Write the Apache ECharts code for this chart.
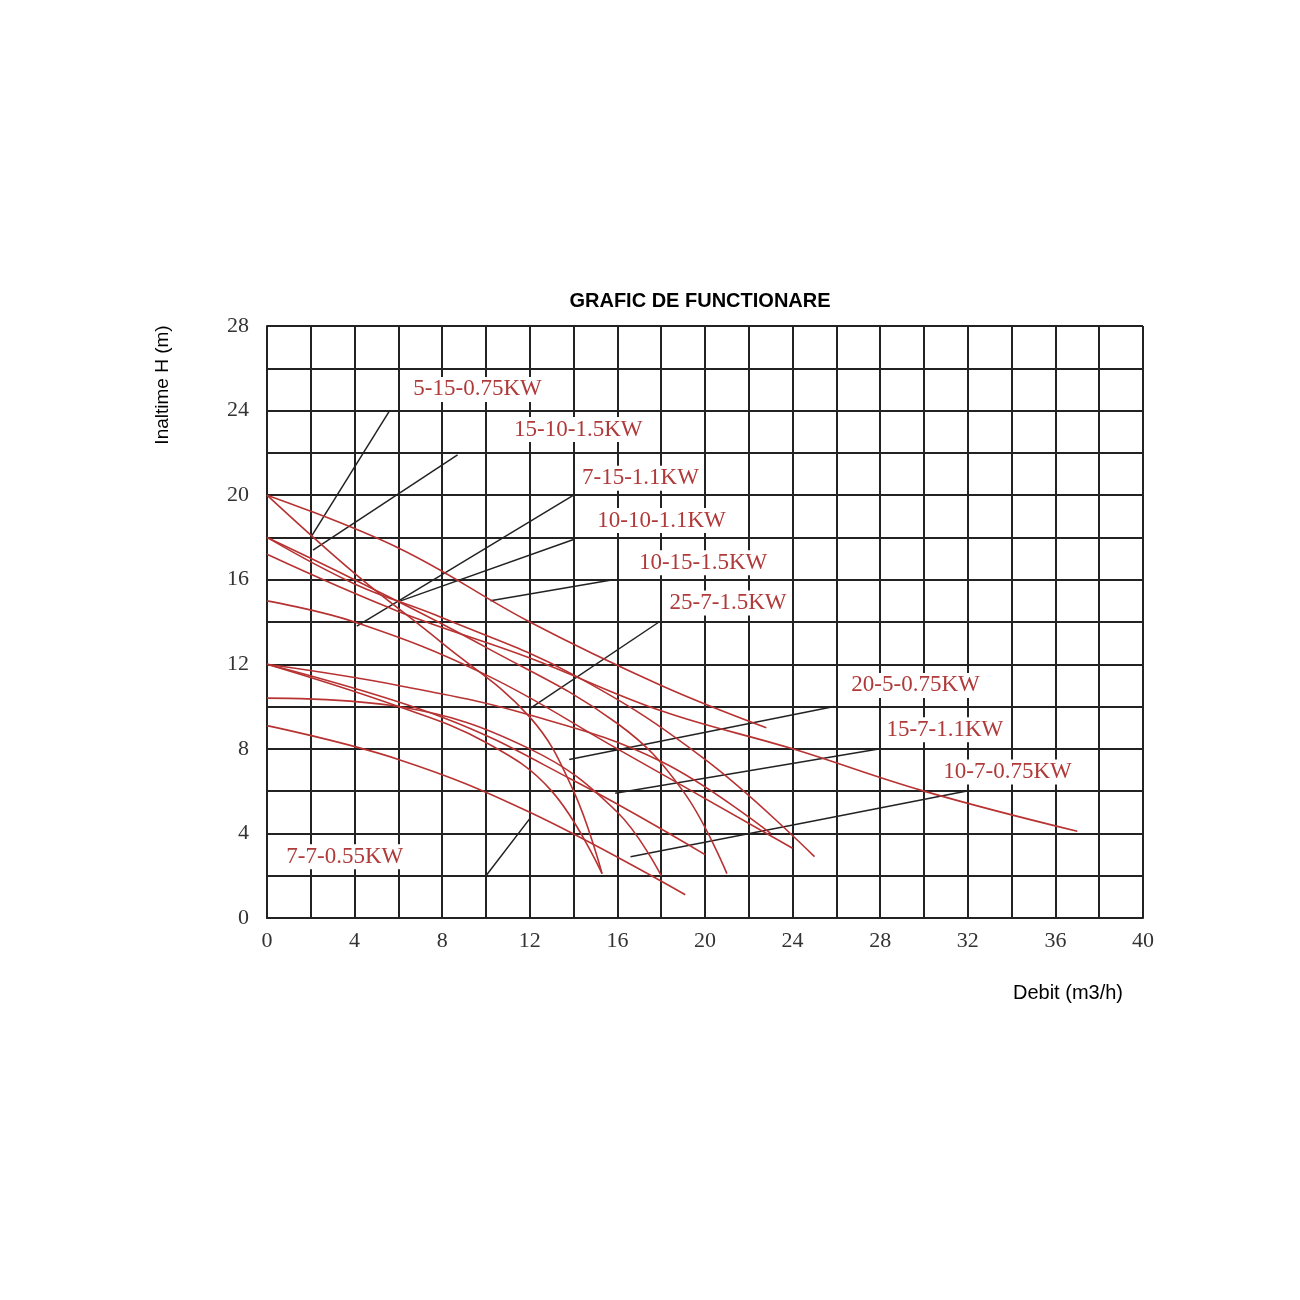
<!DOCTYPE html>
<html>
<head>
<meta charset="utf-8">
<script src="https://cdn.jsdelivr.net/npm/echarts@6/dist/echarts.min.js"></script>
<style>html,body{margin:0;background:#fff}#main{width:1300px;height:1300px}</style>
</head>
<body>
<div id="main"></div>
<script>
// pump curves, [Q, H]
var curves = [
    [[0, 20], [4, 16.3], [8, 13], [12, 9.5], [14, 6], [15.3, 2.1]],
    [[0, 20], [6, 17.5], [12, 14], [18, 11], [22.8, 9]],
    [[0, 18], [4, 16], [10, 12.8], [16, 9.2], [19, 6], [21, 2.1]],
    [[0, 17.2], [6, 14.5], [12, 12.3], [18, 9.8], [24, 8], [30, 6], [37, 4.1]],
    [[0, 18], [4, 15.8], [8, 14.2], [14, 11.5], [20, 7.5], [25, 2.9]],
    [[0, 15], [4, 14], [10, 11.5], [16, 8], [24, 3.3]],
    [[0, 12], [6, 10], [10, 8.3], [13, 6], [15.3, 2.1]],
    [[0, 12], [6, 11], [12, 9.6], [18, 7.4], [23, 4]],
    [[0, 10.4], [6, 10], [12, 8], [16, 5], [18, 2]],
    [[0, 9.1], [6, 7.5], [12, 5], [19.1, 1.1]],
    [[0, 12], [8, 9.5], [14, 6.5], [20, 3]]
];
var leaders = [
    [[5.6, 24], [2.0, 18]],
    [[8.7, 21.9], [2.1, 17.4]],
    [[14, 20], [4.1, 13.8]],
    [[14, 17.9], [6.1, 15]],
    [[15.8, 16], [10.2, 15]],
    [[17.9, 14], [12, 9.9]],
    [[25.9, 10], [13.8, 7.5]],
    [[28, 8], [15.9, 5.9]],
    [[31.9, 6], [16.6, 2.9]],
    [[12, 4.7], [10, 2], [0, 2]]
];
var labels = [
    [6.5, 25, '5-15-0.75KW'],
    [11.1, 23.1, '15-10-1.5KW'],
    [14.2, 20.8, '7-15-1.1KW'],
    [14.9, 18.8, '10-10-1.1KW'],
    [16.8, 16.8, '10-15-1.5KW'],
    [18.2, 14.9, '25-7-1.5KW'],
    [26.5, 11, '20-5-0.75KW'],
    [28.1, 8.9, '15-7-1.1KW'],
    [30.7, 6.9, '10-7-0.75KW'],
    [0.7, 2.9, '7-7-0.55KW']
];

var chart = echarts.init(document.getElementById('main'));
var series = [];
leaders.forEach(function (l) {
    series.push({ type: 'line', data: l, symbol: 'none', lineStyle: { color: '#222', width: 1.5 }, z: 3 });
});
curves.forEach(function (c) {
    series.push({ type: 'line', data: c, smooth: 0.4, symbol: 'none', lineStyle: { color: '#b83232', width: 1.6 }, z: 4 });
});
var axisLine = { lineStyle: { color: '#222', width: 2 } };
chart.setOption({
    animation: false,
    title: { text: 'GRAFIC DE FUNCTIONARE', left: 695, top: 286, textAlign: 'center',
        textStyle: { fontFamily: 'Liberation Sans', fontSize: 20, fontWeight: 'bold', color: '#000' } },
    grid: { left: 267, right: 157, top: 326, bottom: 382 },
    xAxis: {
        type: 'value', min: 0, max: 40, interval: 2,
        axisLine: axisLine, axisTick: { show: false },
        splitLine: { lineStyle: { color: '#222', width: 2 } },
        axisLabel: { margin: 12, fontFamily: 'Liberation Serif', fontSize: 22, color: '#333',
            formatter: function (v) { return v % 4 === 0 ? v : ''; } },
        name: 'Debit (m3/h)', nameLocation: 'end', nameGap: 0,
        nameTextStyle: { fontFamily: 'Liberation Sans', fontSize: 20, color: '#000',
            align: 'right', verticalAlign: 'top', padding: [65, 20, 0, 0] }
    },
    yAxis: {
        type: 'value', min: 0, max: 28, interval: 2,
        axisLine: axisLine, axisTick: { show: false },
        splitLine: { lineStyle: { color: '#222', width: 2 } },
        axisLabel: { margin: 18, fontFamily: 'Liberation Serif', fontSize: 22, color: '#333',
            formatter: function (v) { return v % 4 === 0 ? v : ''; } }
    },
    series: series
});

// curve labels, placed from data coords
var graphics = labels.map(function (l) {
    var p = chart.convertToPixel({ gridIndex: 0 }, [l[0], l[1]]);
    return {
        type: 'text', x: p[0], y: p[1], z: 100,
        style: {
            text: l[2], fill: '#b03a3a', font: '23px "Liberation Serif"',
            verticalAlign: 'middle', align: 'left',
            backgroundColor: '#fff', padding: [1, 4]
        }
    };
});
graphics.push({
    type: 'text', x: 163, y: 385, rotation: Math.PI / 2, z: 100,
    style: { text: 'Inaltime H (m)', fill: '#000', font: '19px "Liberation Sans"', align: 'center', verticalAlign: 'middle' }
});
chart.setOption({ graphic: graphics });
</script>
</body>
</html>
